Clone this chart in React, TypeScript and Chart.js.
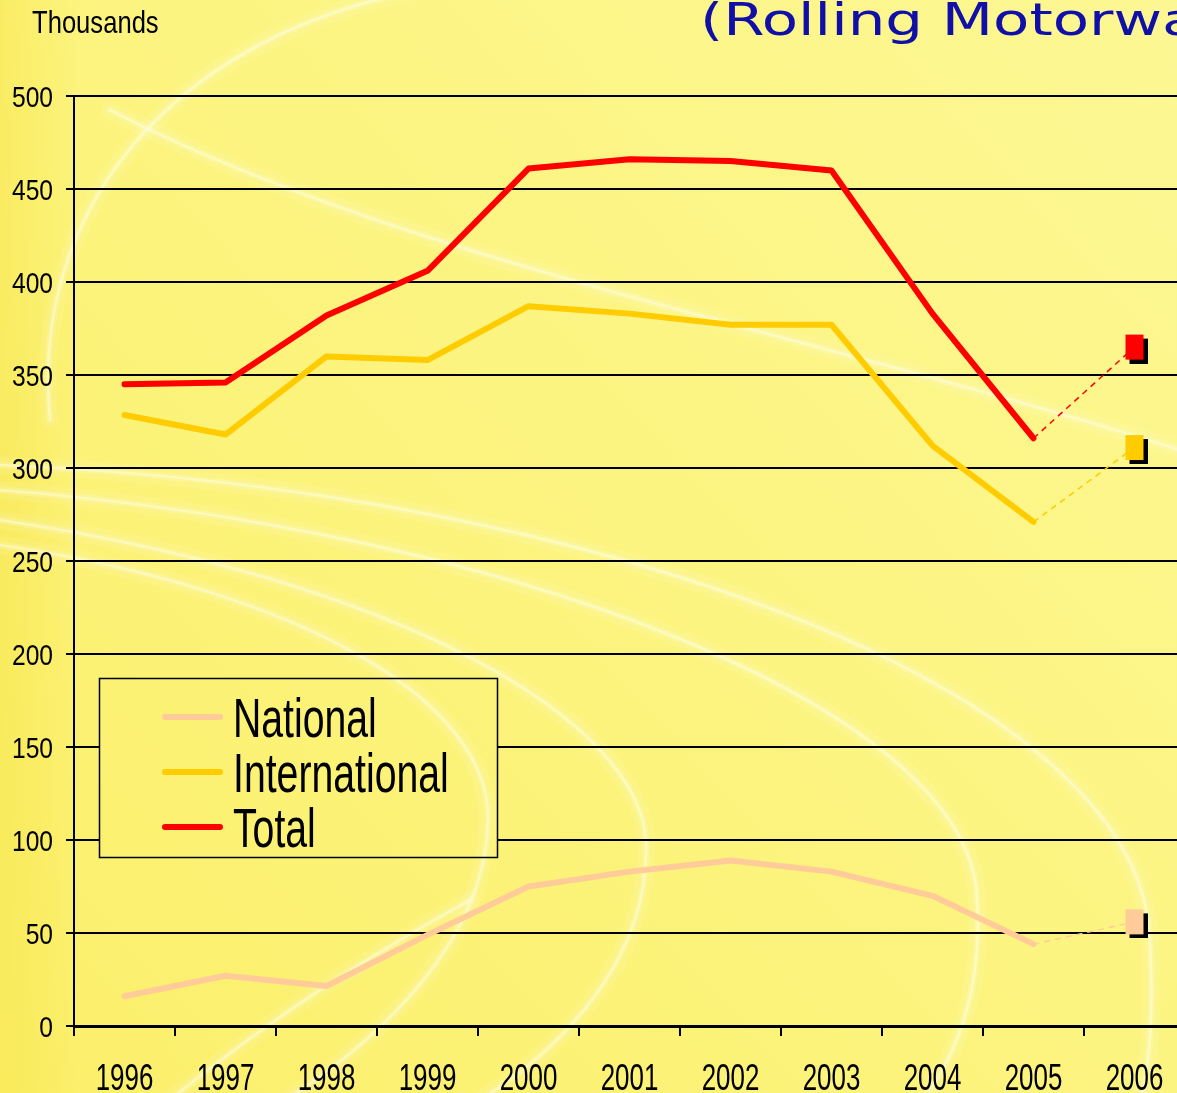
import React, { useEffect, useRef } from "react";
import { Chart, registerables } from "chart.js";

Chart.register(...registerables);

// ---- data ----
const years = ["1996", "1997", "1998", "1999", "2000", "2001", "2002", "2003", "2004", "2005", "2006"];
const nationalValues = [16, 27, 21.5, 49, 75, 83, 89, 83, 70, 44];
const internationalValues = [328.5, 318, 360, 358, 387, 383, 377, 377, 312, 271];
const totalValues = [345, 346, 382, 406, 461, 466, 465, 460, 383, 316];
const national2006 = 56;
const international2006 = 311;
const total2006 = 365;
const seriesLabels = ["National", "International", "Total"];
const seriesColors = ["#ffcc99", "#ffcc00", "#ff0000"];
const yTicks = [0, 50, 100, 150, 200, 250, 300, 350, 400, 450, 500];
const unitLabel = "Thousands";
const titleText = "(Rolling Motorway";

const SANS = '"Liberation Sans", Arial, sans-serif';

function makeMarker(color: string): HTMLCanvasElement {
  const c = document.createElement("canvas");
  const w = 18, h = 25, off = 4;
  c.width = w + 2 * off;
  c.height = h + 2 * off;
  const g = c.getContext("2d")!;
  g.fillStyle = "#000";
  g.fillRect(off + off, off + off, w, h);
  g.fillStyle = color;
  g.fillRect(off, off, w, h);
  return c;
}

function drawScaled(ctx: CanvasRenderingContext2D, text: string, x: number, y: number, align: CanvasTextAlign, size: number, sx: number, font = SANS) {
  ctx.save();
  ctx.translate(x, y);
  ctx.scale(sx, 1);
  ctx.font = `${size}px ${font}`;
  ctx.textAlign = align;
  ctx.textBaseline = "alphabetic";
  ctx.fillText(text, 0, 0);
  ctx.restore();
}

function paintBackground(ctx: CanvasRenderingContext2D, W: number, H: number) {
  ctx.save();
  const g = ctx.createLinearGradient(0, H, W, 0);
  g.addColorStop(0, "#fbef6a");
  g.addColorStop(0.5, "#fcf47f");
  g.addColorStop(1, "#fdf794");
  ctx.fillStyle = g;
  ctx.fillRect(0, 0, W, H);
  const lg = ctx.createLinearGradient(0, 0, 80, 0);
  lg.addColorStop(0, "rgba(246,228,70,0.45)");
  lg.addColorStop(1, "rgba(246,228,70,0)");
  ctx.fillStyle = lg;
  ctx.fillRect(0, 0, 80, H);
  const stroke = (draw: () => void, width: number, alpha: number) => {
    ctx.beginPath();
    draw();
    ctx.strokeStyle = `rgba(255,255,235,${alpha})`;
    ctx.lineWidth = width;
    ctx.lineCap = "round";
    ctx.stroke();
  };
  const swirls: Array<() => void> = [
    () => { ctx.moveTo(50, 420); ctx.bezierCurveTo(30, 220, 160, 40, 420, -10); },
    () => { ctx.moveTo(110, 110); ctx.bezierCurveTo(400, 260, 800, 330, 1180, 450); },
    () => { ctx.moveTo(0, 545); ctx.bezierCurveTo(300, 590, 490, 700, 488, 820); ctx.bezierCurveTo(486, 940, 380, 1040, 285, 1100); },
    () => { ctx.moveTo(0, 520); ctx.bezierCurveTo(400, 580, 640, 720, 646, 842); ctx.bezierCurveTo(650, 960, 560, 1050, 480, 1100); },
    () => { ctx.moveTo(0, 490); ctx.bezierCurveTo(500, 530, 950, 700, 976, 886); ctx.bezierCurveTo(985, 980, 960, 1050, 923, 1100); },
    () => { ctx.moveTo(0, 465); ctx.bezierCurveTo(600, 490, 1130, 690, 1149, 930); ctx.bezierCurveTo(1155, 1010, 1150, 1060, 1141, 1100); },
    () => { ctx.moveTo(170, 1100); ctx.bezierCurveTo(280, 1010, 380, 950, 470, 900); },
  ];
  for (const s of swirls) {
    stroke(s, 18, 0.1);
    stroke(s, 7, 0.2);
    stroke(s, 2.5, 0.45);
  }
  ctx.restore();
}

const backgroundPlugin = {
  id: "bgSwirl",
  beforeDraw(chart: any) {
    paintBackground(chart.ctx, chart.width, chart.height);
  },
};

const annotationPlugin = {
  id: "labelsLegendTitle",
  afterDraw(chart: any) {
    const ctx = chart.ctx as CanvasRenderingContext2D;
    ctx.save();
    ctx.fillStyle = "#000";
    // axis tick labels, positioned by the chart's scales
    const xs = chart.scales.x;
    xs.ticks.forEach((t: any, i: number) => {
      drawScaled(ctx, String(xs.getLabelForValue(t.value)), xs.getPixelForTick(i), 1090, "center", 37, 0.7);
    });
    const ys = chart.scales.y;
    ys.ticks.forEach((t: any) => {
      drawScaled(ctx, String(t.value), 53, ys.getPixelForValue(t.value) + 10.7, "right", 30, 0.82);
    });
    // unit label
    drawScaled(ctx, unitLabel, 32, 33, "left", 32, 0.8);
    // title (clipped at right)
    ctx.fillStyle = "#1010a8";
    drawScaled(ctx, titleText, 700, 35, "left", 44, 1.35, '"DejaVu Sans", Verdana, sans-serif');
    // legend box: repaint background inside so grid lines are hidden
    const bx = 99.5, by = 678.5, bw = 398, bh = 179;
    ctx.save();
    ctx.beginPath();
    ctx.rect(bx, by, bw, bh);
    ctx.clip();
    paintBackground(ctx, chart.width, chart.height);
    ctx.restore();
    ctx.strokeStyle = "#000";
    ctx.lineWidth = 1.5;
    ctx.strokeRect(bx, by, bw, bh);
    const baselines = [737, 792, 847];
    for (let i = 0; i < seriesLabels.length; i++) {
      const ds = chart.data.datasets[i];
      const ly = baselines[i] - 20;
      ctx.beginPath();
      ctx.moveTo(165, ly);
      ctx.lineTo(220, ly);
      ctx.strokeStyle = ds.borderColor;
      ctx.lineWidth = 6;
      ctx.lineCap = "round";
      ctx.stroke();
      ctx.fillStyle = "#000";
      drawScaled(ctx, ds.label, 233, baselines[i], "left", 56, 0.7);
    }
    ctx.restore();
  },
};

export default function App() {
  const ref = useRef<HTMLCanvasElement>(null);
  useEffect(() => {
    if (!ref.current) return;
    const pad = (arr: number[]) => [...arr, null];
    const proj = (last: number, next: number) => {
      const a: (number | null)[] = years.map(() => null);
      a[years.length - 2] = last;
      a[years.length - 1] = next;
      return a;
    };
    const mark = (v: number) => {
      const a: (number | null)[] = years.map(() => null);
      a[years.length - 1] = v;
      return a;
    };
    const actual = [nationalValues, internationalValues, totalValues];
    const next = [national2006, international2006, total2006];
    const datasets: any[] = [];
    for (let i = 0; i < 3; i++) {
      datasets.push({
        label: seriesLabels[i],
        data: pad(actual[i]),
        borderColor: seriesColors[i],
        backgroundColor: seriesColors[i],
        borderWidth: 6,
        pointRadius: 0,
        borderJoinStyle: "round",
        borderCapStyle: "round",
        order: 3 - i,
      });
    }
    for (let i = 0; i < 3; i++) {
      datasets.push({
        label: seriesLabels[i] + " 2006",
        data: proj(actual[i][actual[i].length - 1], next[i]),
        borderColor: seriesColors[i],
        borderWidth: 1.5,
        borderDash: [6, 5],
        pointRadius: 0,
        order: 5,
      });
    }
    for (let i = 0; i < 3; i++) {
      datasets.push({
        label: seriesLabels[i] + " marker",
        data: mark(next[i]),
        showLine: false,
        pointStyle: makeMarker(seriesColors[i]),
        pointRadius: 10,
        order: 0,
      });
    }
    const chart = new Chart(ref.current, {
      type: "line",
      data: { labels: years, datasets },
      plugins: [backgroundPlugin, annotationPlugin],
      options: {
        animation: false,
        responsive: false,
        devicePixelRatio: 1,
        layout: { autoPadding: false, padding: { top: 96, right: 5, left: 0, bottom: 0 } },
        plugins: { legend: { display: false }, tooltip: { enabled: false } },
        scales: {
          x: {
            type: "category",
            offset: true,
            grid: { offset: true, drawOnChartArea: false, drawTicks: true, tickLength: 10, color: "#000", lineWidth: 2 },
            border: { color: "#000", width: 3 },
            ticks: { display: false, autoSkip: false },
            afterFit: (s: any) => { s.height = 67; },
          },
          y: {
            min: 0,
            max: 500,
            afterBuildTicks: (s: any) => { s.ticks = yTicks.map((v) => ({ value: v })); },
            grid: { color: "#000", lineWidth: 2, tickLength: 8 },
            border: { color: "#000", width: 2 },
            ticks: { display: false },
            afterFit: (s: any) => { s.width = 74; },
          },
        },
      },
    });
    return () => chart.destroy();
  }, []);
  return (
    <div style={{ position: "fixed", left: 0, top: 0, width: 1177, height: 1093, overflow: "hidden" }}>
      <canvas ref={ref} width={1190} height={1093} style={{ width: 1190, height: 1093, display: "block" }} />
    </div>
  );
}
